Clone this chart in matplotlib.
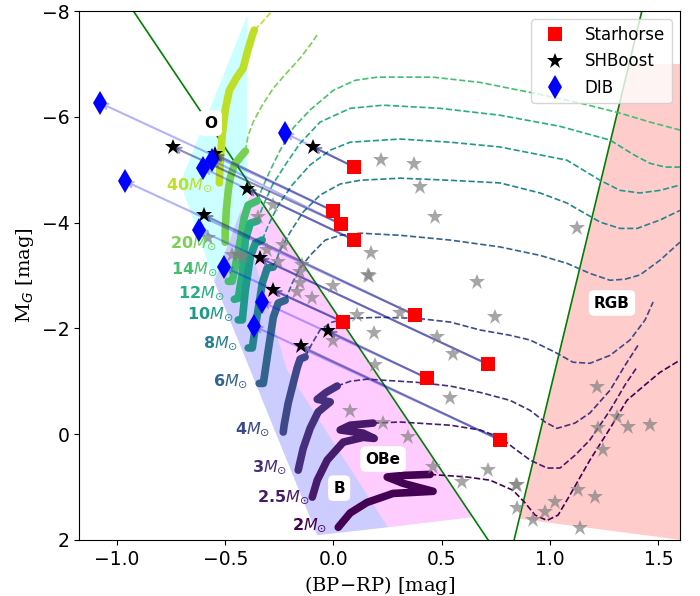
import matplotlib
matplotlib.use("Agg")
import matplotlib.pyplot as plt
from matplotlib.patches import Polygon
from matplotlib import cm

# ---------------------------------------------------------------- data
# Per-star positions: Starhorse -> SHBoost -> DIB extinction corrections
starhorse_bprp = [0.096, -0.001, 0.036, 0.096, 0.377, 0.045, 0.714, 0.432, 0.769]
starhorse_mg = [-5.05, -4.22, -3.97, -3.67, -2.25, -2.12, -1.32, -1.06, 0.11]
shboost_bprp = [-0.094, -0.546, -0.740, -0.398, -0.597, -0.278, -0.338, -0.024, -0.149]
shboost_mg = [-5.43, -5.29, -5.43, -4.63, -4.14, -2.72, -3.33, -1.95, -1.66]
dib_bprp = [-0.223, -1.077, -0.560, -0.601, -0.961, -0.504, -0.620, -0.329, -0.366]
dib_mg = [-5.69, -6.26, -5.18, -5.03, -4.78, -3.16, -3.86, -2.50, -2.04]

# Comparison sample (grey stars)
sample_bprp = [0.220, 0.372, 0.400, 0.469, 1.124, 0.174, 0.160, 0.165, 0.663, 0.308,
               0.746, -0.278, -0.347, -0.001, -0.232, -0.255, -0.154, -0.154, -0.098,
               -0.168, 0.109, 0.188, 0.478, 0.552, -0.001, 0.192, -0.578, -0.467,
               -0.440, -0.417, -0.306, -0.144, 0.077, 0.229, 0.345, 0.539, 0.460,
               0.594, 0.714, 0.843, 0.848, 0.848, 0.922, 0.977, 1.023, 1.138, 1.129,
               1.208, 1.217, 1.222, 1.309, 1.360, 1.462, 1.245]
sample_mg = [-5.18, -5.10, -4.67, -4.10, -3.89, -3.42, -3.01, -3.00, -2.87, -2.29,
             -2.21, -4.33, -4.10, -2.80, -3.57, -3.25, -3.06, -2.85, -2.57,
             -2.68, -2.25, -1.91, -1.83, -1.51, -1.76, -1.30, -3.71, -3.38,
             -3.38, -3.35, -3.48, -3.20, -0.44, -0.21, 0.06, -0.68, 0.62,
             0.91, 0.68, 0.96, 0.97, 1.40, 1.63, 1.47, 1.29, 1.78, 1.06,
             1.19, -0.89, -0.11, -0.32, -0.13, -0.17, 0.30]

# Evolutionary tracks: main sequence (solid) and post-MS (dashed)
masses = ["40", "20", "14", "12", "10", "8", "6", "4", "3", "2.5", "2"]

ms40_x = [-0.527, -0.523, -0.514, -0.500, -0.481, -0.449, -0.417, -0.398, -0.375, -0.366]
ms40_y = [-4.75, -5.18, -5.65, -6.13, -6.50, -6.73, -6.92, -7.22, -7.54, -7.64]
post40_x = [-0.366, -0.329, -0.301, -0.278]
post40_y = [-7.64, -7.79, -7.92, -8.03]

ms20_x = [-0.500, -0.500, -0.495, -0.486, -0.477, -0.458, -0.430, -0.407]
ms20_y = [-3.63, -3.86, -4.23, -4.61, -4.84, -5.09, -5.24, -5.35]
post20_x = [-0.407, -0.394, -0.371, -0.329, -0.278, -0.214, -0.154, -0.098, -0.071]
post20_y = [-5.35, -5.65, -5.90, -6.22, -6.54, -6.84, -7.11, -7.41, -7.58]

ms14_x = [-0.486, -0.468, -0.454, -0.430, -0.412, -0.394, -0.352]
ms14_y = [-2.89, -2.89, -3.16, -3.67, -4.10, -4.33, -4.41]
post14_x = [-0.352, -0.329, -0.292, -0.246, -0.186, -0.108, -0.001, 0.100, 0.202,
            0.460, 0.677, 0.922, 1.138, 1.323, 1.462, 1.600]
post14_y = [-4.41, -4.65, -4.99, -5.37, -5.79, -6.13, -6.50, -6.69, -6.75,
            -6.75, -6.65, -6.45, -6.26, -6.07, -5.90, -5.75]

ms12_x = [-0.458, -0.440, -0.421, -0.407, -0.384, -0.352]
ms12_y = [-2.55, -2.57, -3.04, -3.67, -3.99, -4.03]
post12_x = [-0.352, -0.324, -0.282, -0.223, -0.154, -0.062, 0.077, 0.229, 0.492,
            0.769, 1.046, 1.277, 1.392, 1.462, 1.531, 1.600]
post12_y = [-4.03, -4.33, -4.71, -5.09, -5.50, -5.90, -6.16, -6.22, -6.16,
            -6.03, -5.82, -5.56, -5.27, -5.12, -5.05, -5.05]

ms10_x = [-0.440, -0.421, -0.407, -0.384, -0.361, -0.329]
ms10_y = [-2.16, -2.16, -2.72, -3.35, -3.61, -3.67]
post10_x = [-0.329, -0.301, -0.255, -0.191, -0.108, -0.015, 0.077, 0.308, 0.539,
            0.769, 1.078, 1.231, 1.323, 1.415, 1.508, 1.600]
post10_y = [-3.67, -3.95, -4.33, -4.71, -5.09, -5.37, -5.52, -5.58, -5.52,
            -5.43, -5.18, -4.80, -4.61, -4.56, -4.61, -4.71]

ms8_x = [-0.394, -0.375, -0.361, -0.329, -0.306, -0.278]
ms8_y = [-1.63, -1.63, -2.02, -2.85, -3.14, -3.16]
post8_x = [-0.278, -0.246, -0.200, -0.140, -0.062, 0.031, 0.123, 0.308, 0.539,
           0.769, 0.954, 1.078, 1.231, 1.323, 1.402, 1.508, 1.600]
post8_y = [-3.16, -3.48, -3.82, -4.20, -4.52, -4.73, -4.80, -4.84, -4.80,
           -4.75, -4.56, -4.37, -4.01, -3.89, -3.89, -4.05, -4.23]

ms6_x = [-0.343, -0.324, -0.306, -0.278, -0.255, -0.223]
ms6_y = [-0.96, -0.96, -1.46, -2.21, -2.48, -2.53]
post6_x = [-0.223, -0.191, -0.154, -0.108, -0.038, 0.031, 0.123, 0.308, 0.539,
           0.769, 0.954, 1.078, 1.184, 1.277, 1.346, 1.415, 1.508, 1.600]
post6_y = [-2.53, -2.85, -3.14, -3.38, -3.67, -3.76, -3.80, -3.76, -3.67,
           -3.54, -3.38, -3.23, -3.04, -2.91, -2.93, -3.01, -3.29, -3.63]

ms4_x = [-0.232, -0.228, -0.209, -0.186, -0.168, -0.154, -0.131]
ms4_y = [-0.04, -0.17, -0.59, -0.96, -1.25, -1.42, -1.46]
post4_x = [-0.131, -0.098, -0.062, -0.006, 0.077, 0.215, 0.386, 0.539, 0.677,
           0.815, 0.908, 1.023, 1.106, 1.184, 1.277, 1.369, 1.439, 1.476]
post4_y = [-1.46, -1.72, -1.97, -2.12, -2.19, -2.21, -2.19, -2.12, -1.97,
           -1.87, -1.78, -1.55, -1.36, -1.34, -1.49, -1.78, -2.16, -2.50]

ms3_x = [-0.163, -0.140, -0.108, -0.071, -0.015, -0.075, -0.034, 0.017]
ms3_y = [0.68, 0.27, -0.11, -0.42, -0.61, -0.66, -0.79, -0.91]
post3_x = [0.017, 0.077, 0.155, 0.386, 0.539, 0.677, 0.815, 0.908, 0.977, 1.032,
           1.115, 1.184, 1.277, 1.346, 1.406]
post3_y = [-0.91, -1.00, -1.04, -0.98, -0.91, -0.79, -0.64, -0.45, -0.23, -0.11,
           -0.21, -0.40, -0.83, -1.30, -1.68]

ms25_x = [-0.098, -0.075, -0.029, 0.045, 0.137, 0.188, 0.137, 0.031, 0.077, 0.183]
ms25_y = [1.19, 0.87, 0.49, 0.15, 0.06, 0.08, -0.02, -0.08, -0.17, -0.21]
post25_x = [0.183, 0.308, 0.539, 0.677, 0.769, 0.829, 0.908, 0.986, 1.046, 1.115,
            1.184, 1.277, 1.346, 1.402]
post25_y = [-0.21, -0.23, -0.17, -0.08, 0.06, 0.25, 0.49, 0.64, 0.64, 0.40,
            0.11, -0.45, -0.93, -1.27]

ms2_x = [0.022, 0.077, 0.155, 0.275, 0.460, 0.322, 0.248, 0.322, 0.446]
ms2_y = [1.76, 1.49, 1.29, 1.12, 1.08, 0.93, 0.81, 0.78, 0.76]
post2_x = [0.446, 0.617, 0.723, 0.829, 0.885, 0.931, 0.986, 1.037, 1.092, 1.184,
           1.277, 1.355, 1.438, 1.508, 1.600]
post2_y = [0.76, 0.81, 0.87, 1.06, 1.30, 1.53, 1.63, 1.53, 1.15, 0.49,
           -0.11, -0.64, -0.93, -1.17, -1.40]

# Region outlines (colour, magnitude)
o_region_x = [-0.398, -0.707, -0.551, -0.431, -0.398]
o_region_y = [-7.92, -4.76, -2.89, -4.20, -4.42]
b_region_x = [-0.551, -0.075, 0.252, -0.214, -0.431]
b_region_y = [-2.89, 1.91, 1.76, -1.21, -4.20]
obe_region_x = [-0.431, -0.369, 0.643, 0.252, -0.214]
obe_region_y = [-4.20, -4.61, 1.57, 1.76, -1.21]
rgb_region_x = [1.365, 1.70, 1.70, 0.858]
rgb_region_y = [-7.0, -7.0, 2.05, 1.60]

# Boundary lines
boundary1_x = [-0.924, 0.714]
boundary1_y = [-8.0, 2.0]
boundary2_x = [1.424, 0.834]
boundary2_y = [-8.0, 2.0]

# ---------------------------------------------------------------- figure
fig = plt.figure(figsize=(7.0, 5.96), dpi=100)
ax = fig.add_axes([0.1129, 0.094, 0.8585, 0.8875])

for xs, ys, col in [(o_region_x, o_region_y, "cyan"),
                    (b_region_x, b_region_y, "blue"),
                    (obe_region_x, obe_region_y, "magenta"),
                    (rgb_region_x, rgb_region_y, "red")]:
    ax.add_patch(Polygon(list(zip(xs, ys)), closed=True, facecolor=col,
                         alpha=0.2, edgecolor="none", zorder=1))

ax.plot(boundary1_x, boundary1_y, color="green", lw=1.2, zorder=2)
ax.plot(boundary2_x, boundary2_y, color="green", lw=1.2, zorder=2)

track_ms = [(ms40_x, ms40_y), (ms20_x, ms20_y), (ms14_x, ms14_y), (ms12_x, ms12_y),
            (ms10_x, ms10_y), (ms8_x, ms8_y), (ms6_x, ms6_y), (ms4_x, ms4_y),
            (ms3_x, ms3_y), (ms25_x, ms25_y), (ms2_x, ms2_y)]
track_post = [(post40_x, post40_y), (post20_x, post20_y), (post14_x, post14_y),
              (post12_x, post12_y), (post10_x, post10_y), (post8_x, post8_y),
              (post6_x, post6_y), (post4_x, post4_y), (post3_x, post3_y),
              (post25_x, post25_y), (post2_x, post2_y)]
cmap_pos = [0.90, 0.80, 0.70, 0.62, 0.54, 0.44, 0.32, 0.22, 0.14, 0.07, 0.0]
label_xy = [(-0.559, -4.71), (-0.541, -3.61), (-0.537, -3.12), (-0.504, -2.66),
            (-0.463, -2.27), (-0.440, -1.72), (-0.394, -1.00), (-0.292, -0.10),
            (-0.214, 0.62), (-0.112, 1.19), (-0.029, 1.72)]

for m, (mx, my), (px, py), c, (lx, ly) in zip(masses, track_ms, track_post,
                                              cmap_pos, label_xy):
    col = cm.viridis(c)
    ax.plot(px, py, ls="--", color=col, lw=1.2, zorder=3)
    ax.plot(mx, my, ls="-", color=col, lw=5.5, solid_capstyle="round",
            solid_joinstyle="round", zorder=4)
    ax.text(lx, ly, m + r"$M_{\odot}$", color=col, fontsize=11.5,
            fontweight="bold", ha="right", va="center", zorder=6)

# Extinction-correction arrows
for sx, sy, hx, hy, dx, dy in zip(starhorse_bprp, starhorse_mg, shboost_bprp,
                                  shboost_mg, dib_bprp, dib_mg):
    ax.annotate("", xy=(dx, dy), xytext=(sx, sy),
                arrowprops=dict(arrowstyle="->", color="blue", alpha=0.3,
                                lw=1.5, shrinkA=0, shrinkB=0), zorder=5)
    ax.annotate("", xy=(hx, hy), xytext=(sx, sy),
                arrowprops=dict(arrowstyle="->", color="midnightblue", alpha=0.5,
                                lw=1.5, shrinkA=0, shrinkB=0), zorder=5)

ax.plot(sample_bprp, sample_mg, ls="none", marker="*", ms=12, color="gray",
        alpha=0.7, mew=0, zorder=5)
ax.plot(starhorse_bprp, starhorse_mg, ls="none", marker="s", ms=9.5, color="red",
        mew=0, zorder=7, label="Starhorse")
ax.plot(shboost_bprp, shboost_mg, ls="none", marker="*", ms=12, color="black",
        mew=0, zorder=7, label="SHBoost")
ax.plot(dib_bprp, dib_mg, ls="none", marker="d", ms=12, color="blue",
        mew=0, zorder=7, label="DIB")

box = dict(boxstyle="round,pad=0.3", facecolor="white", edgecolor="white")
for txt, tx, ty in [("O", -0.569, -5.88), ("OBe", 0.229, 0.47),
                    ("B", 0.026, 1.02), ("RGB", 1.286, -2.48)]:
    ax.text(tx, ty, txt, fontsize=11, fontweight="bold", ha="center",
            va="center", bbox=box, zorder=8)

ax.set_xlim(-1.175, 1.6)
ax.set_ylim(2, -8)
ax.tick_params(labelsize=13.5)
ax.set_xlabel(r"(BP$-$RP) [mag]", family="DejaVu Serif", fontsize=14)
ax.set_ylabel(r"M$_G$ [mag]", family="DejaVu Serif", fontsize=14)
ax.legend(loc="upper right", fontsize=12)

fig.savefig("out.png", dpi=100)
